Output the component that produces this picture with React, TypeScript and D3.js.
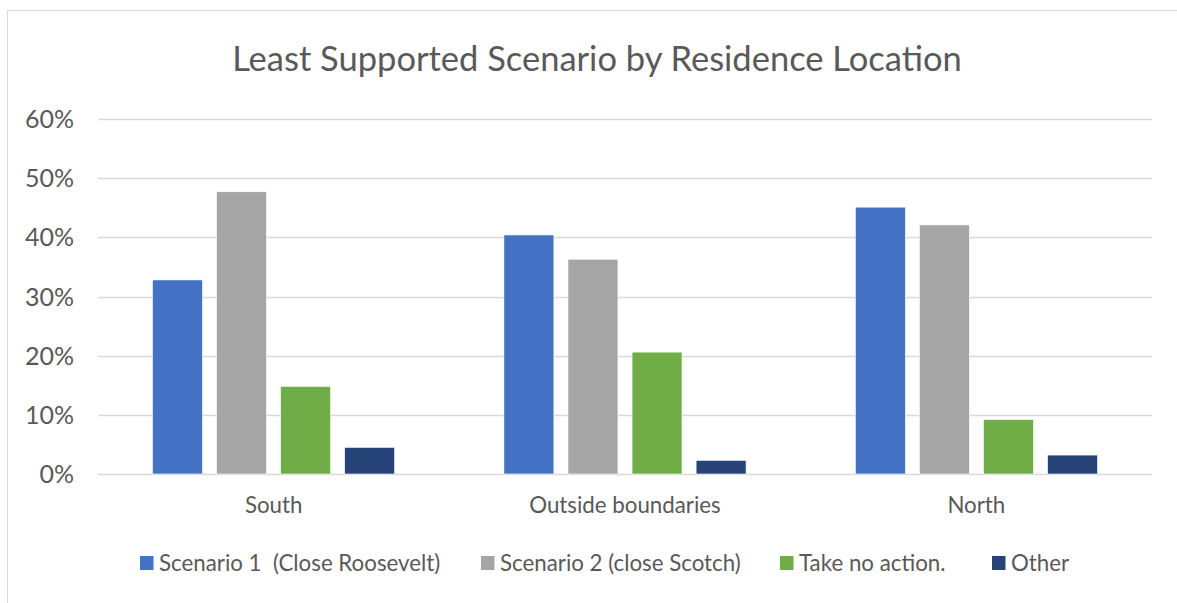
import React from "react";
import * as d3 from "d3";

const categories = ["South", "Outside boundaries", "North"];
const seriesNames = [
  "Scenario 1  (Close Roosevelt)",
  "Scenario 2 (close Scotch)",
  "Take no action.",
  "Other",
];
const scenario1 = [0.328, 0.404, 0.451];
const scenario2 = [0.477, 0.363, 0.421];
const noAction = [0.148, 0.206, 0.092];
const other = [0.045, 0.023, 0.032];
const yTicks = [0, 0.1, 0.2, 0.3, 0.4, 0.5, 0.6];
const colors = ["#4472C4", "#A5A5A5", "#70AD47", "#264478"];
const legendX = [140, 481, 780, 992];

const W = 1177;
const H = 603;
const plot = { left: 98, right: 1152, top: 119, bottom: 474 };
const FONT = "Lato, 'Open Sans', sans-serif";
const TEXT = "#595959";

export default function App() {
  const series = [scenario1, scenario2, noAction, other];
  const x0 = d3
    .scaleBand<string>()
    .domain(categories)
    .range([plot.left, plot.right])
    .paddingInner(0.311)
    .paddingOuter(0.155);
  const x1 = d3
    .scaleBand<string>()
    .domain(seriesNames)
    .range([0, x0.bandwidth()])
    .paddingInner(0.22)
    .paddingOuter(0);
  const y = d3.scaleLinear().domain([0, 0.6]).range([plot.bottom, plot.top]);
  const fmt = d3.format(".0%");
  const bandStep = (plot.right - plot.left) / categories.length;

  return (
    <svg
      width={W}
      height={H}
      style={{ position: "absolute", left: 0, top: 0, background: "#fff" }}
      fontFamily={FONT}
    >
      <rect x={7.5} y={10.5} width={1200} height={620} fill="#fff" stroke="#D9D9D9" strokeWidth={1} />
      <text x={597} y={71} textAnchor="middle" fontSize={34.5} fill={TEXT}>
        Least Supported Scenario by Residence Location
      </text>
      {yTicks.map((t) => (
        <g key={t}>
          <line
            x1={plot.left}
            x2={plot.right}
            y1={Math.round(y(t)) + 0.5}
            y2={Math.round(y(t)) + 0.5}
            stroke="#D9D9D9"
            strokeWidth={1.3}
          />
          <text x={74} y={y(t)} dy="0.36em" textAnchor="end" fontSize={25} fill={TEXT}>
            {fmt(t)}
          </text>
        </g>
      ))}
      {categories.map((c, ci) => (
        <g key={c}>
          {series.map((s, si) => (
            <rect
              key={si}
              x={(x0(c) as number) + (x1(seriesNames[si]) as number)}
              y={y(s[ci])}
              width={x1.bandwidth()}
              height={y(0) - y(s[ci])}
              fill={colors[si]}
              stroke="#fff"
              strokeWidth={0.6}
            />
          ))}
          <text
            x={plot.left + bandStep * (ci + 0.5)}
            y={512.5}
            textAnchor="middle"
            fontSize={22.3}
            fill={TEXT}
          >
            {c}
          </text>
        </g>
      ))}
      {seriesNames.map((n, i) => (
        <g key={n}>
          <rect x={legendX[i]} y={556} width={13.5} height={14} fill={colors[i]} />
          <text x={legendX[i] + 19} y={571} fontSize={22.3} fill={TEXT} style={{ whiteSpace: "pre" }}>
            {n}
          </text>
        </g>
      ))}
    </svg>
  );
}
